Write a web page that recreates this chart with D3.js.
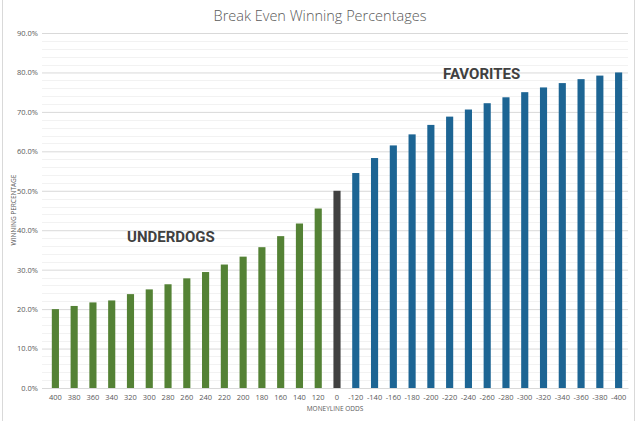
<!DOCTYPE html>
<html>
<head>
<meta charset="utf-8">
<script src="https://cdn.jsdelivr.net/npm/d3@7"></script>
<style>
  body { margin: 0; background: #fff; }
  svg { display: block; }
</style>
</head>
<body>
<div id="chart"></div>
<script>
// moneyline odds, left to right
const odds = ['400', '380', '360', '340', '320', '300', '280', '260', '240', '220', '200', '180', '160', '140', '120',
  '0',
  '-120', '-140', '-160', '-180', '-200', '-220', '-240', '-260', '-280', '-300', '-320', '-340', '-360', '-380', '-400'];

// break even winning percentage (%)
const winPct = [20.0, 20.8, 21.7, 22.2, 23.8, 25.0, 26.3, 27.8, 29.4, 31.3, 33.3, 35.7, 38.5, 41.7, 45.5,
  50.0,
  54.5, 58.3, 61.5, 64.3, 66.7, 68.8, 70.6, 72.2, 73.7, 75.0, 76.2, 77.3, 78.3, 79.2, 80.0];

const majorTicks = [0, 10, 20, 30, 40, 50, 60, 70, 80, 90];

const width = 640, height = 421;
const margin = { top: 33, right: 8, bottom: 33, left: 46 };
const colors = { under: '#548235', even: '#404040', fav: '#1d6594' };

const svg = d3.select('#chart').append('svg')
  .attr('width', width)
  .attr('height', height);

// chart frame
svg.append('line').attr('x1', 2.5).attr('x2', 2.5).attr('y1', 0).attr('y2', height)
  .attr('stroke', '#d9d9d9');
svg.append('line').attr('x1', 634.5).attr('x2', 634.5).attr('y1', 0).attr('y2', height)
  .attr('stroke', '#d9d9d9');

const x = d3.scaleBand()
  .domain(odds)
  .range([margin.left, width - margin.right - 4])
  .paddingInner(0.62)
  .paddingOuter(0.31);

const y = d3.scaleLinear()
  .domain([0, 90])
  .range([height - margin.bottom, margin.top]);

// minor gridlines every 2%
svg.append('g')
  .selectAll('line')
  .data(d3.range(0, 91, 2).filter(v => v % 10 !== 0))
  .join('line')
  .attr('x1', margin.left - 4)
  .attr('x2', width - margin.right - 4)
  .attr('y1', d => Math.round(y(d)) + 0.5)
  .attr('y2', d => Math.round(y(d)) + 0.5)
  .attr('stroke', '#f2f2f2');

// y axis with major gridlines
const yAxis = svg.append('g')
  .attr('transform', `translate(${margin.left - 4},0)`)
  .call(d3.axisLeft(y)
    .tickValues(majorTicks)
    .tickFormat(d => d.toFixed(1) + '%')
    .tickSize(-(width - margin.right - 4 - margin.left + 4))
    .tickPadding(4));
yAxis.select('.domain').remove();
yAxis.selectAll('.tick line').attr('stroke', '#d9d9d9');
yAxis.selectAll('.tick text')
  .attr('fill', '#595959')
  .style('font-family', '"Open Sans", sans-serif')
  .style('font-size', '7.5px');

// bars
const barColor = (d, i) => i < 15 ? colors.under : (i === 15 ? colors.even : colors.fav);
svg.append('g')
  .selectAll('rect')
  .data(winPct)
  .join('rect')
  .attr('x', (d, i) => x(odds[i]))
  .attr('y', d => y(d))
  .attr('width', x.bandwidth())
  .attr('height', d => y(0) - y(d))
  .attr('fill', barColor);

// x axis
const xAxis = svg.append('g')
  .attr('transform', `translate(0,${y(0)})`)
  .call(d3.axisBottom(x).tickSize(0).tickPadding(7));
xAxis.select('.domain').attr('stroke', '#d9d9d9');
xAxis.selectAll('.tick text')
  .attr('fill', '#595959')
  .style('font-family', '"Open Sans", sans-serif')
  .style('font-size', '7.5px');

// titles
svg.append('text')
  .attr('x', 320)
  .attr('y', 21)
  .attr('text-anchor', 'middle')
  .attr('fill', '#595959')
  .style('font-family', '"Open Sans", sans-serif')
  .style('font-weight', 300)
  .style('font-size', '14.5px')
  .text('Break Even Winning Percentages');

svg.append('text')
  .attr('x', 335)
  .attr('y', 411)
  .attr('text-anchor', 'middle')
  .attr('fill', '#595959')
  .style('font-family', '"Open Sans", sans-serif')
  .style('font-size', '6.5px')
  .text('MONEYLINE ODDS');

svg.append('text')
  .attr('transform', 'translate(16,210) rotate(-90)')
  .attr('text-anchor', 'middle')
  .attr('fill', '#595959')
  .style('font-family', '"Open Sans", sans-serif')
  .style('font-size', '6.5px')
  .text('WINNING PERCENTAGE');

// group labels
svg.append('text')
  .attr('x', 127)
  .attr('y', 242)
  .attr('fill', '#404040')
  .style('font-family', 'Roboto, sans-serif')
  .style('font-weight', 700)
  .style('font-size', '15px')
  .text('UNDERDOGS');

svg.append('text')
  .attr('x', 443)
  .attr('y', 79)
  .attr('fill', '#404040')
  .style('font-family', 'Roboto, sans-serif')
  .style('font-weight', 700)
  .style('font-size', '15px')
  .text('FAVORITES');
</script>
</body>
</html>
